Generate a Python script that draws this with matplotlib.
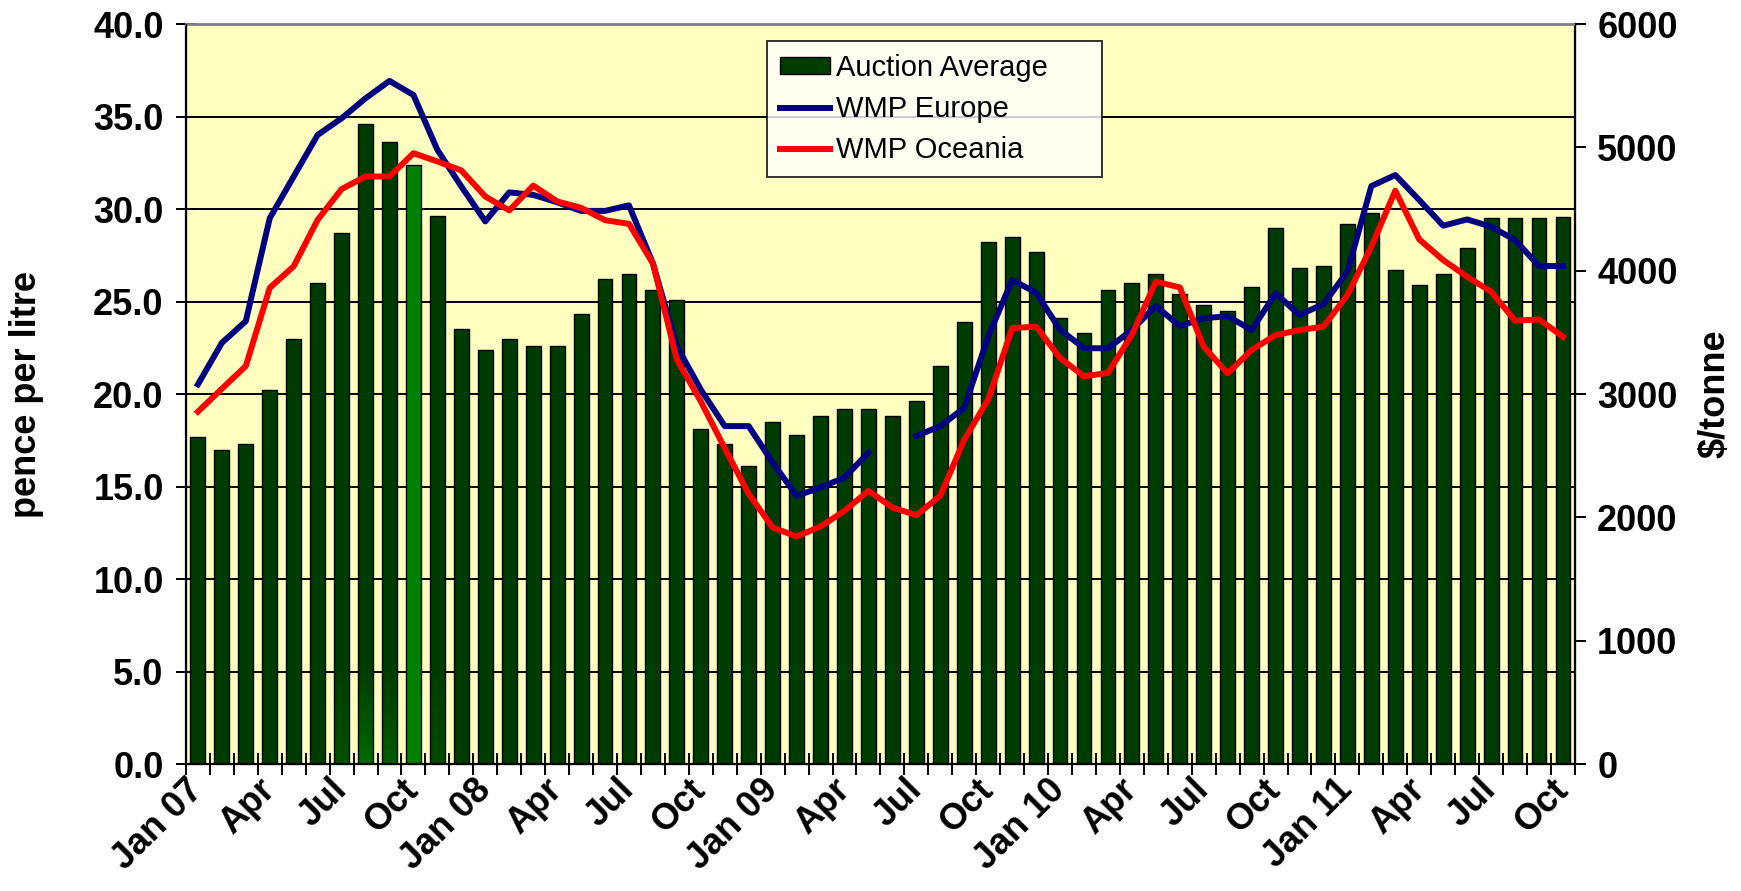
import numpy as np
import matplotlib
matplotlib.use("Agg")
from matplotlib import pyplot as plt
from matplotlib.colors import to_rgb
from matplotlib.patches import Patch
from matplotlib.lines import Line2D

plt.rcParams['font.family'] = ['Liberation Sans', 'DejaVu Sans']

# monthly data, Jan 2007 - Oct 2011
months = ["Jan 07", "Feb", "Mar", "Apr", "May", "Jun", "Jul", "Aug", "Sep", "Oct", "Nov", "Dec",
          "Jan 08", "Feb", "Mar", "Apr", "May", "Jun", "Jul", "Aug", "Sep", "Oct", "Nov", "Dec",
          "Jan 09", "Feb", "Mar", "Apr", "May", "Jun", "Jul", "Aug", "Sep", "Oct", "Nov", "Dec",
          "Jan 10", "Feb", "Mar", "Apr", "May", "Jun", "Jul", "Aug", "Sep", "Oct", "Nov", "Dec",
          "Jan 11", "Feb", "Mar", "Apr", "May", "Jun", "Jul", "Aug", "Sep", "Oct"]

# pence per litre
auction = [17.7, 17.0, 17.3, 20.2, 23.0, 26.0, 28.7, 34.6, 33.6, 32.4, 29.6, 23.5,
           22.4, 23.0, 22.6, 22.6, 24.3, 26.2, 26.5, 25.6, 25.1, 18.1, 17.3, 16.1,
           18.5, 17.8, 18.8, 19.2, 19.2, 18.8, 19.6, 21.5, 23.9, 28.2, 28.5, 27.7,
           24.1, 23.3, 25.6, 26.0, 26.5, 25.4, 24.8, 24.5, 25.8, 29.0, 26.8, 26.9,
           29.2, 29.8, 26.7, 25.9, 26.5, 27.9, 29.5, 29.5, 29.5, 29.55]

# $/tonne
wmp_europe = [3078, 3415, 3591, 4426, 4764, 5101, 5236, 5398, 5539, 5425, 4980, 4683,
              4400, 4635, 4615, 4555, 4485, 4485, 4530, 4059, 3387, 3036, 2740, 2740,
              2444, 2175, 2242, 2323, 2525, np.nan, 2660, 2740, 2888, 3466, 3925, 3822,
              3521, 3373, 3370, 3520, 3714, 3551, 3614, 3632, 3519, 3816, 3641, 3730,
              3992, 4686, 4776, 4573, 4365, 4416, 4357, 4249, 4038, 4038]

wmp_oceania = [2857, 3043, 3227, 3861, 4036, 4413, 4662, 4764, 4764, 4953, 4886, 4813,
               4602, 4489, 4690, 4562, 4510, 4410, 4380, 4059, 3279, 2940, 2560, 2190,
               1918, 1845, 1926, 2053, 2215, 2080, 2018, 2175, 2630, 2955, 3534, 3547,
               3293, 3144, 3171, 3480, 3911, 3865, 3384, 3168, 3357, 3478, 3519, 3546,
               3803, 4195, 4649, 4254, 4086, 3951, 3830, 3595, 3605, 3465]

DARK = "#003c00"
x = np.arange(len(months))
bar_cols = [DARK] * len(months)
bar_cols[9] = "#008000"
# a few bars fade to a lighter green near the bottom in the original
fade = {6: "#005000", 7: "#006a00", 8: "#005c00", 10: "#004a00"}

fig = plt.figure(figsize=(17.41, 8.91), dpi=100)
ax = fig.add_axes([0.1068, 0.1425, 0.9046 - 0.1068, 0.973 - 0.1425])
ax.set_facecolor("#ffffc0")
ax.set_axisbelow(True)

bw = 0.62
ax.bar(x, auction, width=bw, color=bar_cols, linewidth=0, zorder=2)
# fade: thin stacked segments over the lowest 5 pence
steps = 20
fade_h = 5.0
for i, c in fade.items():
    c0 = np.array(to_rgb(DARK))
    c1 = np.array(to_rgb(c))
    for k in range(steps):
        f = 1 - (k + 0.5) / steps
        ax.bar(i, fade_h / steps, bottom=k * fade_h / steps, width=bw,
               color=c0 + (c1 - c0) * f, linewidth=0, zorder=2.05)
ax.bar(x, auction, width=bw, facecolor="none", edgecolor="black", linewidth=1.0, zorder=2.1)

ax.set_ylim(0, 40)
ax.set_xlim(-0.5, len(months) - 0.5)
ax.set_yticks(np.arange(0, 40.1, 5))
ax.set_yticklabels([f"{v:.1f}" for v in np.arange(0, 40.1, 5)])
ax.yaxis.grid(True, color="black", linewidth=1.4)
ax.tick_params(axis="y", direction="inout", length=14, width=1.4, labelsize=26, pad=9)
for t in ax.get_yticklabels():
    t.set_fontweight("bold")
ax.set_ylabel("pence per litre", fontsize=26, fontweight="bold")
ax.yaxis.set_label_coords(-0.102, 0.5)

ax.set_xticks(x[::3])
ax.set_xticklabels(months[::3], rotation=45, ha="right", va="center",
                   rotation_mode="anchor", fontsize=26, fontweight="bold")
ax.set_xticks(np.arange(-0.5, len(months), 1), minor=True)
ax.tick_params(axis="x", which="major", length=0, pad=15)
ax.tick_params(axis="x", which="minor", direction="inout", length=16, width=1.4)

ax.spines["top"].set_color("#808080")
ax.spines["top"].set_linewidth(2)
for s in ["left", "right", "bottom"]:
    ax.spines[s].set_linewidth(1.6)

ax2 = ax.twinx()
ax2.plot(x, wmp_europe, color="#000080", linewidth=4.3, zorder=3)
ax2.plot(x, wmp_oceania, color="#ff0000", linewidth=4.3, zorder=3)
ax2.set_ylim(0, 6000)
ax2.set_yticks(np.arange(0, 6001, 1000))
ax2.tick_params(axis="y", direction="out", length=8, width=1.4, labelsize=26, pad=8)
for t in ax2.get_yticklabels():
    t.set_fontweight("bold")
ax2.set_ylabel("$/tonne", fontsize=26, fontweight="bold")
ax2.yaxis.set_label_coords(1.088, 0.5)
ax2.spines["top"].set_visible(False)

handles = [Patch(facecolor=DARK, edgecolor="black", linewidth=1.0),
           Line2D([], [], color="#000080", linewidth=4.3),
           Line2D([], [], color="#ff0000", linewidth=4.3)]
leg = ax2.legend(handles, ["Auction Average", "WMP Europe", "WMP Oceania"],
                 loc="upper left", bbox_to_anchor=(767 / 1741, 0.854, 335 / 1741, 0.1),
                 bbox_transform=fig.transFigure, mode="expand", borderaxespad=0,
                 fontsize=21, frameon=True, fancybox=False, edgecolor="black",
                 handlelength=1.7, handleheight=0.5, handletextpad=0.2,
                 borderpad=0.45, labelspacing=0.45)
leg.get_frame().set_linewidth(1.4)

fig.savefig("out.png", dpi=100, facecolor="white")
